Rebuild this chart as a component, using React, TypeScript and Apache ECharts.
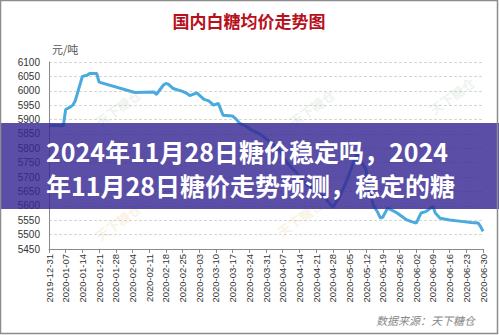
import React, { useEffect, useRef } from "react";
import * as echarts from "echarts";

const startDate = "2019-12-31";
const endDate = "2020-06-30";

const pointDates = [
  "2019-12-31", "2020-01-06", "2020-01-07", "2020-01-09", "2020-01-10", "2020-01-11",
  "2020-01-14", "2020-01-16", "2020-01-17", "2020-01-20", "2020-01-21", "2020-02-05",
  "2020-02-13", "2020-02-14", "2020-02-17", "2020-02-18", "2020-02-19", "2020-02-21",
  "2020-02-25", "2020-02-27", "2020-02-28", "2020-03-02", "2020-03-05", "2020-03-07",
  "2020-03-09", "2020-03-11", "2020-03-13", "2020-03-17", "2020-03-18", "2020-03-20",
  "2020-03-23", "2020-03-25", "2020-03-28", "2020-03-30", "2020-04-05", "2020-04-09",
  "2020-04-13", "2020-04-17", "2020-04-21", "2020-04-25", "2020-04-28", "2020-05-01",
  "2020-05-04", "2020-05-06", "2020-05-08", "2020-05-12", "2020-05-13", "2020-05-15",
  "2020-05-17", "2020-05-18", "2020-05-19", "2020-05-21", "2020-05-24", "2020-05-25",
  "2020-05-27", "2020-05-29", "2020-05-31", "2020-06-02", "2020-06-04", "2020-06-06",
  "2020-06-09", "2020-06-10", "2020-06-12", "2020-06-16", "2020-06-21", "2020-06-25",
  "2020-06-28", "2020-06-29", "2020-06-30",
];

const pointValues = [
  5880, 5878, 5935, 5944, 5950, 5965,
  6050, 6054, 6060, 6060, 6030, 5994,
  5996, 5987, 6020, 6025, 6023, 6008,
  5998, 5990, 5983, 5993, 5970, 5965,
  5950, 5956, 5915, 5912, 5905, 5887,
  5875, 5863, 5852, 5840, 5800, 5748,
  5713, 5673, 5655, 5625, 5595, 5633,
  5690, 5736, 5783, 5725, 5667, 5603,
  5575, 5557, 5561, 5592, 5580, 5575,
  5563, 5551, 5545, 5540, 5575, 5580,
  5598, 5575, 5557, 5551, 5546, 5542,
  5540, 5528, 5511,
];

const yMin = 5450;
const yMax = 6100;
const yStep = 50;

const titleText = "国内白糖均价走势图";
const unitText = "元/吨";
const bannerLines = [
  "2024年11月28日糖价稳定吗，2024",
  "年11月28日糖价走势预测，稳定的糖",
];
const sourceText = "数据来源：天下糖仓";
const watermarkText = "天下糖仓";

function buildDays(a: string, b: string): string[] {
  const out: string[] = [];
  const d = new Date(a + "T00:00:00Z");
  const end = new Date(b + "T00:00:00Z");
  while (d.getTime() <= end.getTime()) {
    out.push(d.toISOString().slice(0, 10));
    d.setUTCDate(d.getUTCDate() + 1);
  }
  return out;
}

const dayCategories = buildDays(startDate, endDate);

export default function App() {
  const ref = useRef<HTMLDivElement>(null);
  useEffect(() => {
    if (!ref.current) return;
    const chart = echarts.init(ref.current, null, { renderer: "svg" });
    const sans = "'Liberation Sans', Arial, sans-serif";
    const cjk = "'Noto Sans CJK SC', sans-serif";
    const wm = (x: number, y: number, color: string) => ({
      type: "text",
      x,
      y,
      rotation: Math.PI / 5,
      z: 5,
      style: {
        text: watermarkText,
        font: `bold 13px ${cjk}`,
        fill: color,
        opacity: 0.18,
        textAlign: "center",
        textVerticalAlign: "middle",
      },
    });
    chart.setOption({
      animation: false,
      backgroundColor: "#ffffff",
      grid: { left: 49, right: 16, top: 62, bottom: 86, containLabel: false },
      xAxis: {
        type: "category",
        data: dayCategories,
        boundaryGap: false,
        axisLine: { show: true, lineStyle: { color: "#8a8a8a", width: 1 } },
        axisTick: { show: true, interval: 6, length: 4, lineStyle: { color: "#8a8a8a" } },
        axisLabel: {
          interval: 6,
          rotate: 90,
          margin: 5,
          fontSize: 9.5,
          color: "#333333",
          fontFamily: sans,
        },
        splitLine: { show: false },
      },
      yAxis: {
        type: "value",
        min: yMin,
        max: yMax,
        interval: yStep,
        axisLine: { show: true, lineStyle: { color: "#8a8a8a", width: 1 } },
        axisTick: { show: false },
        axisLabel: {
          fontSize: 10,
          color: "#333333",
          margin: 9,
          fontFamily: sans,
          formatter: (v: number) => String(v),
        },
        splitLine: { show: true, lineStyle: { color: "#d6d6d6", type: [3, 2], width: 1 } },
      },
      series: [
        {
          type: "line",
          data: pointDates.map((d, i) => [d, pointValues[i]]),
          symbol: "none",
          lineStyle: { color: "#4aa9dd", width: 3 },
          z: 3,
        },
      ],
      graphic: [
        {
          type: "text",
          x: 249,
          y: 20,
          style: {
            text: titleText,
            font: `bold 17px ${cjk}`,
            fill: "#b8101c",
            textAlign: "center",
            textVerticalAlign: "middle",
          },
        },
        {
          type: "text",
          x: 52,
          y: 49,
          style: {
            text: unitText,
            font: `11px ${cjk}`,
            fill: "#555555",
            textVerticalAlign: "middle",
          },
        },
        wm(118, 108, "#9bb59b"),
        wm(312, 108, "#9bb59b"),
        wm(452, 96, "#9bb59b"),
        wm(118, 222, "#e0b060"),
        wm(300, 218, "#e0b060"),
        {
          type: "rect",
          z: 100,
          shape: { x: 0, y: 123, width: 499, height: 86 },
          style: { fill: "rgba(54,39,146,0.82)" },
        },
        {
          type: "text",
          z: 101,
          x: 46,
          y: 151,
          style: {
            text: bannerLines[0],
            font: `bold 25px ${cjk}`,
            fill: "#ffffff",
            textVerticalAlign: "middle",
          },
        },
        {
          type: "text",
          z: 101,
          x: 46,
          y: 185,
          style: {
            text: bannerLines[1],
            font: `bold 25px ${cjk}`,
            fill: "#ffffff",
            textVerticalAlign: "middle",
          },
        },
        {
          type: "text",
          x: 475,
          y: 320,
          style: {
            text: sourceText,
            font: `italic 11px ${cjk}`,
            fill: "#888888",
            textAlign: "right",
            textVerticalAlign: "middle",
          },
        },
        {
          type: "rect",
          z: 110,
          shape: { x: 0.5, y: 0.5, width: 497, height: 333 },
          style: { fill: "none", stroke: "#8c8c8c", lineWidth: 1.5 },
        },
      ],
    });
    return () => chart.dispose();
  }, []);
  return (
    <div
      ref={ref}
      style={{ position: "fixed", left: 0, top: 0, width: 499, height: 335 }}
    />
  );
}
